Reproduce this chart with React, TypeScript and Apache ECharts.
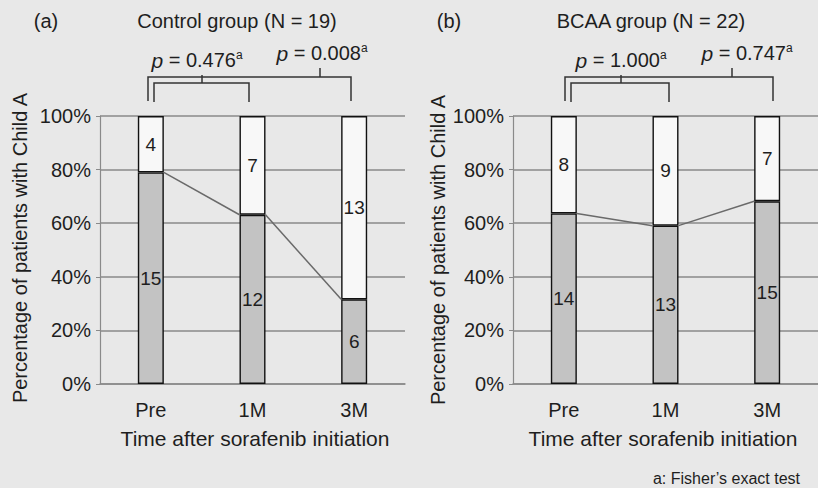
import React, { useEffect, useRef } from "react";
import * as echarts from "echarts";

const categories = ["Pre", "1M", "3M"];
const controlChildA = [15, 12, 6];
const controlOther = [4, 7, 13];
const bcaaChildA = [14, 13, 15];
const bcaaOther = [8, 9, 7];
const yTickValues = [0, 20, 40, 60, 80, 100];
const pControl = ["0.476", "0.008"];
const pBcaa = ["1.000", "0.747"];

const FONT = "Liberation Sans";
const TXT = "#1e1e1e";
const GRID_C = "#8a8a8a";
const BAR_W = 26;

function pct(a: number[], b: number[]) {
  return a.map((v, i) => (v / (v + b[i])) * 100);
}

export default function App() {
  const ref = useRef<HTMLDivElement>(null);
  useEffect(() => {
    if (!ref.current) return;
    const chart = echarts.init(ref.current, undefined, { renderer: "svg" });
    const cLow = pct(controlChildA, controlOther);
    const cHigh = cLow.map((v) => 100 - v);
    const bLow = pct(bcaaChildA, bcaaOther);
    const bHigh = bLow.map((v) => 100 - v);

    const grids = [
      { left: 100, top: 116, width: 305, height: 268 },
      { left: 513, top: 116, width: 314, height: 268 },
    ];

    const xAxes = [0, 1].map((g) => ({
      type: "category",
      gridIndex: g,
      data: categories,
      axisLine: { show: true, lineStyle: { color: GRID_C, width: 1.5 } },
      axisTick: { show: false },
      axisLabel: { fontFamily: FONT, fontSize: 20, color: TXT, margin: 16 },
    }));
    const yAxes = [0, 1].map((g) => ({
      type: "value",
      gridIndex: g,
      min: yTickValues[0],
      max: yTickValues[yTickValues.length - 1],
      interval: yTickValues[1] - yTickValues[0],
      axisLine: { show: true, lineStyle: { color: GRID_C, width: 1.2 } },
      axisTick: { show: true, length: 4, lineStyle: { color: GRID_C } },
      splitLine: { show: true, lineStyle: { color: GRID_C, width: 1.5 } },
      axisLabel: {
        fontFamily: FONT,
        fontSize: 20,
        color: TXT,
        margin: 9,
        formatter: "{value}%",
      },
    }));

    const labelStyle = {
      show: true,
      position: "inside",
      fontFamily: FONT,
      fontSize: 19,
      color: TXT,
    };

    const barPair = (g: number, low: number[], high: number[], nLow: number[], nHigh: number[]) => [
      {
        type: "bar",
        xAxisIndex: g,
        yAxisIndex: g,
        stack: "s" + g,
        barWidth: BAR_W,
        data: low,
        itemStyle: { color: "#c3c3c3", borderColor: "#111", borderWidth: 1.4 },
        label: { ...labelStyle, formatter: (p: any) => String(nLow[p.dataIndex]) },
        z: 3,
      },
      {
        type: "bar",
        xAxisIndex: g,
        yAxisIndex: g,
        stack: "s" + g,
        barWidth: BAR_W,
        data: high,
        itemStyle: { color: "#f8f8f8", borderColor: "#111", borderWidth: 1.4 },
        label: { ...labelStyle, formatter: (p: any) => String(nHigh[p.dataIndex]) },
        z: 3,
      },
      {
        type: "custom",
        xAxisIndex: g,
        yAxisIndex: g,
        z: 4,
        data: low.slice(0, -1).map((v, i) => [i, v, low[i + 1]]),
        encode: { x: 0, y: 1 },
        renderItem: (params: any, api: any) => {
          const i = api.value(0);
          const a = api.coord([i, api.value(1)]);
          const b = api.coord([i + 1, api.value(2)]);
          const h = BAR_W / 2;
          return {
            type: "line",
            shape: { x1: a[0] + h, y1: a[1], x2: b[0] - h, y2: b[1] },
            style: { stroke: "#6a6a6a", lineWidth: 1.5 },
          };
        },
      },
    ];

    const txt = (x: number, y: number, text: string, extra: any = {}) => ({
      type: "text",
      x,
      y,
      style: {
        text,
        fontFamily: FONT,
        fontSize: 20,
        fill: TXT,
        align: "center",
        verticalAlign: "middle",
        ...extra,
      },
    });

    const pText = (x: number, y: number, v: string) => ({
      type: "text",
      x,
      y,
      style: {
        text: "{i|p} = " + v + "{s|a}",
        fontFamily: FONT,
        fontSize: 20,
        fill: TXT,
        align: "center",
        verticalAlign: "middle",
        rich: {
          i: { fontFamily: FONT, fontSize: 21, fontStyle: "italic", fill: TXT },
          s: { fontFamily: FONT, fontSize: 12, fill: TXT, verticalAlign: "top", padding: [0, 0, 10, 0] },
        },
      },
    });

    const br = (pts: number[][]) => ({
      type: "polyline",
      shape: { points: pts },
      style: { stroke: "#333", lineWidth: 1.5, fill: null },
    });

    const brackets = (c0: number, c1: number, c2: number, tO: number, tI: number, pxI: number, pxO: number, pv: string[]) => [
      br([[c0 - 3, 101], [c0 - 3, 77], [c2 - 1, 77], [c2 - 1, 101]]),
      br([[c0 + 3, 102], [c0 + 3, 83], [c1 - 3, 83], [c1 - 3, 102]]),
      br([[tI, 83], [tI, 75]]),
      br([[tO, 77], [tO, 68]]),
      pText(pxI, 60, pv[0]),
      pText(pxO, 53, pv[1]),
    ];

    const option: any = {
      animation: false,
      backgroundColor: "#e8e8e8",
      grid: grids,
      xAxis: xAxes,
      yAxis: yAxes,
      series: [
        ...barPair(0, cLow, cHigh, controlChildA, controlOther),
        ...barPair(1, bLow, bHigh, bcaaChildA, bcaaOther),
      ],
      graphic: [
        txt(46, 21, "(a)"),
        txt(237, 21, "Control group (N = 19)"),
        txt(449, 21, "(b)"),
        txt(651, 21, "BCAA group (N = 22)"),
        txt(255, 438, "Time after sorafenib initiation", { fontSize: 21 }),
        txt(663, 438, "Time after sorafenib initiation", { fontSize: 21 }),
        { ...txt(20, 248, "Percentage of patients with Child A"), rotation: Math.PI / 2 },
        { ...txt(438, 250, "Percentage of patients with Child A"), rotation: Math.PI / 2 },
        txt(800, 478, "a: Fisher\u2019s exact test", { align: "right", fontSize: 16 }),
        ...brackets(151, 252, 352, 320, 202, 197, 322, pControl),
        ...brackets(568, 672, 774, 732, 621, 621, 747, pBcaa),
      ],
    };
    chart.setOption(option);
    return () => chart.dispose();
  }, []);
  return (
    <div
      ref={ref}
      style={{ position: "fixed", left: 0, top: 0, width: 818, height: 488 }}
    />
  );
}
